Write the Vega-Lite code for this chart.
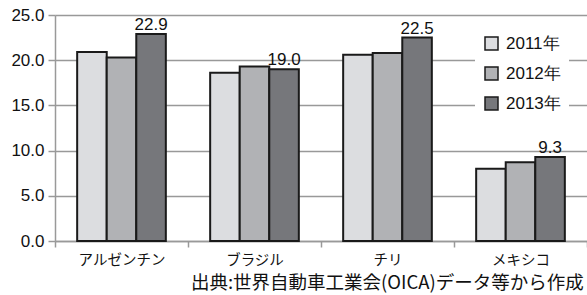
{
  "$schema": "https://vega.github.io/schema/vega-lite/v6.json",
  "width": 532,
  "height": 226,
  "autosize": "none",
  "padding": {"left": 55, "top": 15, "right": 0, "bottom": 54},
  "background": "white",
  "config": {"view": {"stroke": null}, "font": "Liberation Sans"},
  "title": {
    "text": "出典:世界自動車工業会(OICA)データ等から作成",
    "orient": "bottom",
    "anchor": "end",
    "font": "Noto Sans CJK JP",
    "fontSize": 18.5,
    "fontWeight": "normal",
    "color": "#111111",
    "offset": 7,
    "dx": -4
  },
  "data": {
    "values": [
      {"country": "アルゼンチン", "year": "2011年", "value": 20.9},
      {"country": "アルゼンチン", "year": "2012年", "value": 20.3},
      {"country": "アルゼンチン", "year": "2013年", "value": 22.9},
      {"country": "ブラジル", "year": "2011年", "value": 18.6},
      {"country": "ブラジル", "year": "2012年", "value": 19.3},
      {"country": "ブラジル", "year": "2013年", "value": 19.0},
      {"country": "チリ", "year": "2011年", "value": 20.6},
      {"country": "チリ", "year": "2012年", "value": 20.8},
      {"country": "チリ", "year": "2013年", "value": 22.5},
      {"country": "メキシコ", "year": "2011年", "value": 8.0},
      {"country": "メキシコ", "year": "2012年", "value": 8.7},
      {"country": "メキシコ", "year": "2013年", "value": 9.3}
    ]
  },
  "encoding": {
    "x": {
      "field": "country",
      "type": "nominal",
      "sort": ["アルゼンチン", "ブラジル", "チリ", "メキシコ"],
      "scale": {"paddingInner": 0, "paddingOuter": 0},
      "axis": {
        "title": null,
        "labelAngle": 0,
        "labelFont": "Noto Sans CJK JP",
        "labelFontSize": 14.5,
        "labelColor": "#111111",
        "labelPadding": 6,
        "domainColor": "#999999",
        "domainWidth": 1.5,
        "tickColor": "#999999",
        "tickWidth": 1.5,
        "tickSize": 6,
        "tickBand": "extent",
        "grid": false
      }
    },
    "xOffset": {
      "field": "year",
      "type": "nominal",
      "scale": {"paddingInner": 0, "paddingOuter": 0.75}
    },
    "y": {
      "field": "value",
      "type": "quantitative",
      "scale": {"domain": [0, 25]},
      "axis": {
        "title": null,
        "values": [0, 5, 10, 15, 20, 25],
        "format": ".1f",
        "labelFontSize": 17,
        "labelColor": "#111111",
        "labelPadding": 4,
        "domainColor": "#999999",
        "domainWidth": 1.5,
        "tickColor": "#999999",
        "tickWidth": 1.5,
        "tickSize": 7,
        "gridColor": "#999999",
        "gridWidth": 1.5
      }
    }
  },
  "layer": [
    {
      "mark": {"type": "bar", "stroke": "#1a1a1a", "strokeWidth": 2},
      "encoding": {
        "color": {
          "field": "year",
          "type": "nominal",
          "scale": {"range": ["#dcdde0", "#b1b2b5", "#76777b"]},
          "legend": {
            "title": null,
            "orient": "none",
            "legendX": 420,
            "legendY": 12,
            "fillColor": "white",
            "padding": 8,
            "symbolType": "square",
            "symbolSize": 169,
            "symbolStrokeColor": "#1a1a1a",
            "symbolStrokeWidth": 1.5,
            "labelFontSize": 17,
            "labelColor": "#111111",
            "labelOffset": 6,
            "rowPadding": 11
          }
        }
      }
    },
    {
      "transform": [{"filter": "datum.year == '2013年'"}],
      "mark": {"type": "text", "baseline": "alphabetic", "dy": -4, "fontSize": 17, "color": "#111111"},
      "encoding": {"text": {"field": "value", "type": "quantitative", "format": ".1f"}}
    }
  ]
}
